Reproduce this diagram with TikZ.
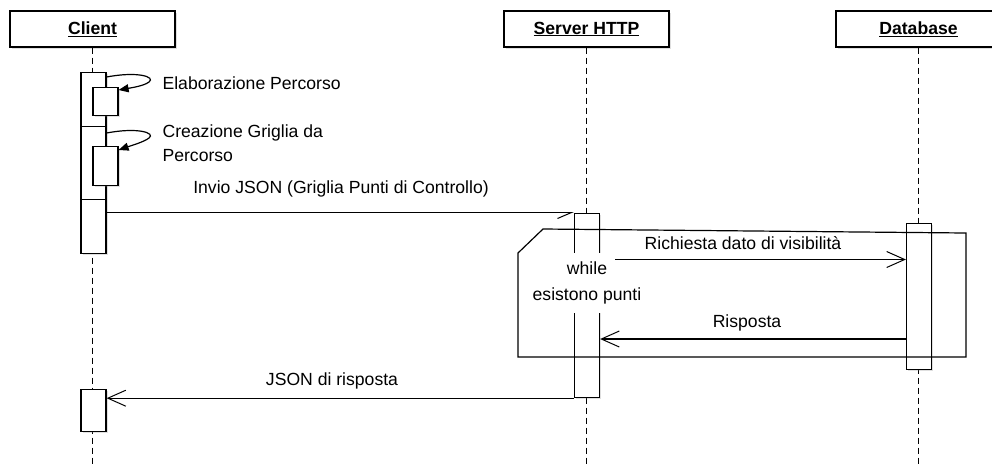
\documentclass[tikz,border=0pt]{standalone}
\usepackage{fontspec}
\setmainfont{Liberation Sans}
\usetikzlibrary{arrows.meta,shadows}

\begin{document}
\begin{tikzpicture}[x=1pt, y=-1pt, line width=1.2pt,
  font=\fontsize{17.6}{20}\selectfont,
  shade/.style={drop shadow={opacity=0.25, shadow xshift=1.5pt, shadow yshift=-1.5pt}},
  head/.style={draw, fill=white, shade, minimum width=165pt, minimum height=36pt,
    inner sep=0pt, font=\fontsize{17.6}{20}\selectfont\bfseries},
  act/.style={draw, fill=white, shade, minimum width=25pt, inner sep=0pt, anchor=north},
  lifeline/.style={line width=1pt, dash pattern=on 6pt off 4pt},
  msg/.style={-{Straight Barb[length=18pt, width=16pt, line width=1pt]}},
  halfmsg/.style={-{Straight Barb[right, length=14pt, width=12pt, line width=1pt]}},
  selfmsg/.style={-{Triangle[length=10pt, width=8pt]}},
  lbl/.style={inner sep=0pt}]

\useasboundingbox (0,0) rectangle (992,467);
\clip (0,0) rectangle (992,467);
\coordinate (bottom) at (0,467);

% lifeline heads
\node[head] (client) at (92.5,29) {\underline{Client}};
\node[head] (server) at (586.5,29) {\underline{Server HTTP}};
\node[head] (db)     at (918.5,29) {\underline{Database}};

% lifelines
\draw[lifeline] (client.south) -- (client.south |- bottom);
\draw[lifeline] (server.south) -- (server.south |- bottom);
\draw[lifeline] (db.south) -- (db.south |- bottom);

% activations on the client
\node[act, minimum height=54pt] (cact1) at (93.5,72) {};
\node[act, minimum height=73pt] (cact2) at (93.5,126) {};
\node[act, minimum height=54pt] (cact3) at (93.5,199) {};
\node[act, minimum height=28pt] (n1) at (105.5,87) {};
\node[act, minimum height=39pt] (n2) at (105.5,146) {};
\node[act, minimum height=42pt] (cact4) at (93.5,389) {};

% activations on server and database
\node[act, minimum height=184.5pt] (sact) at (587,212.5) {};
\node[act, minimum height=146pt] (dact) at (919,223) {};

% loop frame
\draw (543,229) -- (966,233) -- (966,357) -- (518,357) -- (518,253) -- cycle;

% self calls
\draw[selfmsg] ([yshift=-5pt]cact1.north east)
  .. controls (138,71) and (156,77) .. (149,82)
  .. controls (144,86) and (130,88) .. ([yshift=-3pt]n1.north east);
\node[lbl, anchor=west] (elab) at (162,83) {Elaborazione Percorso};

\draw[selfmsg] ([yshift=-7pt]cact2.north east)
  .. controls (138,127) and (156,133) .. (149,138)
  .. controls (144,142) and (130,146) .. ([yshift=-4pt]n2.north east);
\node[lbl, anchor=west, align=left, font=\fontsize{17.6}{24}\selectfont] (crea) at (162,143)
  {Creazione Griglia da\\Percorso};

% request to the server
\coordinate (yinv) at (0,212.5);
\draw[halfmsg] (cact3.east |- yinv) -- (sact.north west);
\node[lbl] (invio) at (341,189) {Invio JSON (Griglia Punti di Controllo)};

% loop guard
\node[fill=white, align=center, inner xsep=6pt, minimum height=60pt,
  font=\fontsize{17.6}{26}\selectfont] (guard) at (587,283) {while\\esistono punti};

% messages inside the loop
\coordinate (reqstart) at (615,259.5);
\draw[msg] (reqstart) -- (dact.west |- reqstart);
\node[lbl] (req) at (743,243) {Richiesta dato di visibilità};

\coordinate (yres) at (0,339);
\draw[msg] (dact.west |- yres) -- (sact.east |- yres);
\node[lbl] (res) at (747,323) {Risposta};

% reply to the client
\draw[msg] (sact.south west) -- (cact4.east |- sact.south west);
\node[lbl] (reply) at (332,381) {JSON di risposta};

\end{tikzpicture}
\end{document}
